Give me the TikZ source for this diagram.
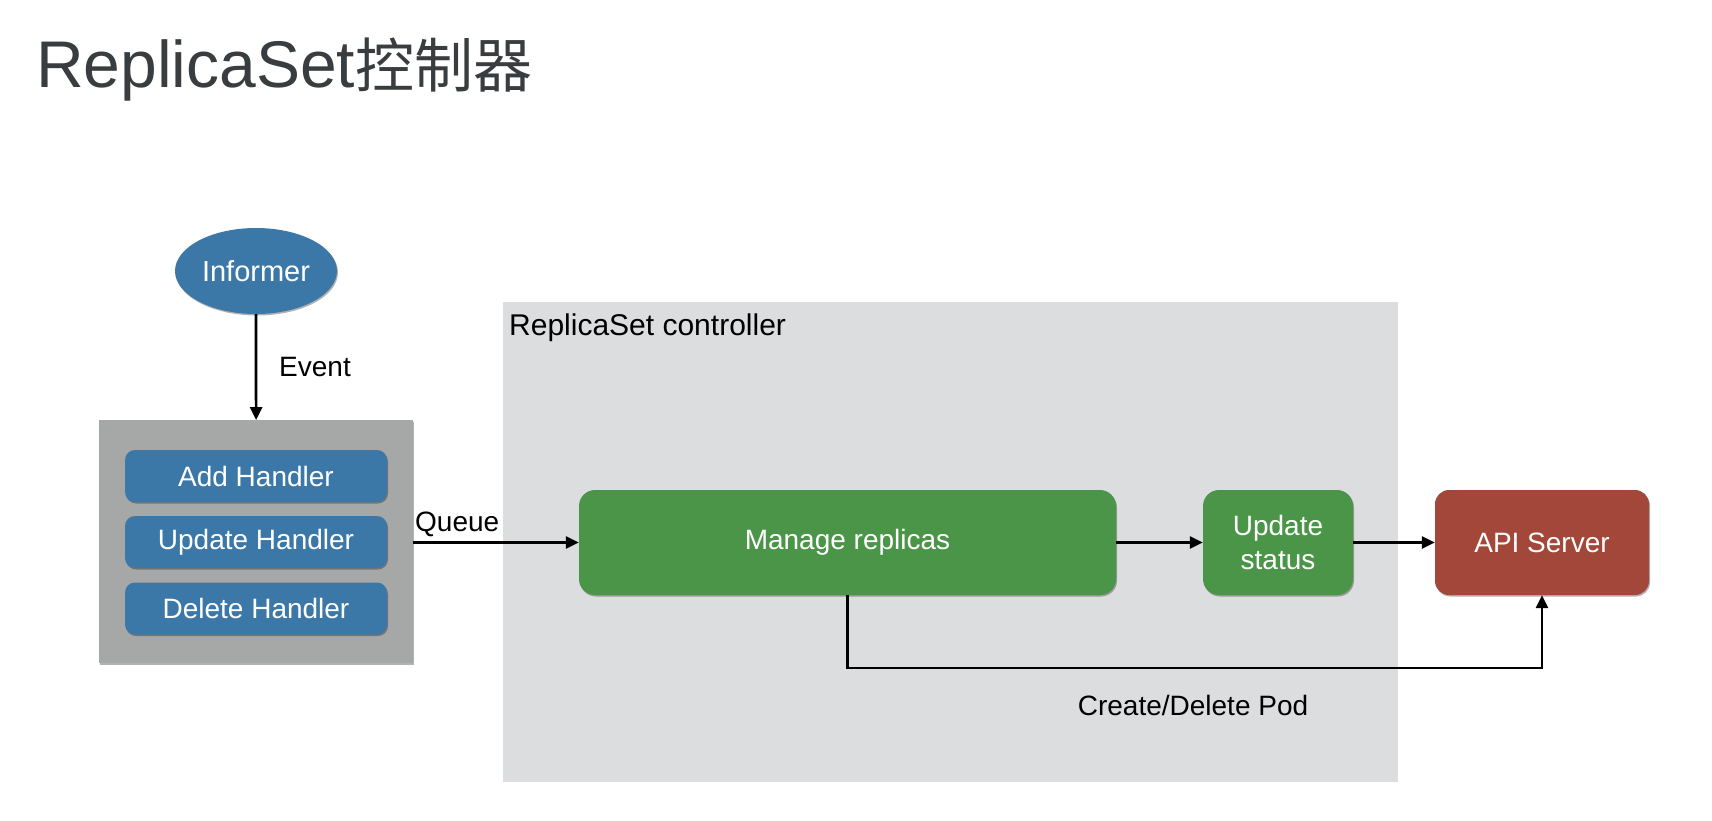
\documentclass[tikz,border=0pt]{standalone}
\usepackage{fontspec}
\setmainfont{Liberation Sans}
\newfontfamily\cjk{Noto Sans CJK SC}
\usetikzlibrary{shapes.geometric,arrows.meta,shadows}
\definecolor{titlegray}{HTML}{3A3D40}
\definecolor{bluefill}{HTML}{3C78A7}
\definecolor{greenfill}{HTML}{4A9548}
\definecolor{redfill}{HTML}{A3473A}
\definecolor{handlergray}{HTML}{A6A7A7}
\definecolor{ctrlgray}{HTML}{DCDDDF}
\begin{document}
\begin{tikzpicture}[x=1pt,y=-1pt,
  txt/.style={font=\fontsize{28}{34}\selectfont},
  lbl/.style={font=\fontsize{28}{33}\selectfont, text=black, inner sep=0pt},
  arr/.style={line width=2.7pt, -{Triangle[length=13pt,width=12pt]}},
  shad/.style={drop shadow={shadow xshift=1pt, shadow yshift=-1.5pt, opacity=0.3, fill=black}},
  bluebox/.style={shad, fill=bluefill, rounded corners=10pt, minimum width=262pt, minimum height=52pt, inner sep=0pt, text=white, txt},
  greenbox/.style={shad, fill=greenfill, rounded corners=16pt, minimum height=105pt, inner sep=0pt, text=white, txt, align=center},
  redbox/.style={shad, fill=redfill, rounded corners=14pt, minimum height=105pt, inner sep=0pt, text=white, txt}
]
\useasboundingbox (0,0) rectangle (1712,820);
\fill[white] (0,0) rectangle (1712,820);

% title
\node[anchor=base west, inner sep=0pt, text=titlegray, font=\fontsize{66}{76}\selectfont] (title) at (36,87) {ReplicaSet{\cjk\fontsize{59}{70}\selectfont 控制器}};

% controller container
\node[fill=ctrlgray, minimum width=895pt, minimum height=480pt, inner sep=0pt, anchor=north west] (ctrl) at (503,302) {};
\node[anchor=base west, inner sep=0pt, text=black, font=\fontsize{30}{36}\selectfont] (ctrltitle) at (509,335) {ReplicaSet controller};

% informer
\node[ellipse, shad, fill=bluefill, minimum width=162pt, minimum height=86pt, inner sep=0pt, text=white, font=\fontsize{29}{34}\selectfont] (informer) at (256,271) {Informer};

% handlers
\node[shad, fill=handlergray, minimum width=314pt, minimum height=243pt, inner sep=0pt, anchor=north west] (handlers) at (99,420) {};
\node[bluebox] (add) at (256,476) {Add Handler};
\node[bluebox] (upd) at (256,542) {Update Handler};
\node[bluebox] (del) at (256,608.5) {Delete Handler};

% process boxes
\node[greenbox, minimum width=537pt] (manage) at (847.5,542.5) {\raisebox{-3pt}{Manage replicas}};
\node[greenbox, minimum width=150pt] (status) at (1278,542.5) {Update\\status};
\node[redbox, minimum width=214pt] (api) at (1542,542.5) {API Server};

% connectors
\draw[arr] (informer) -- (handlers);
\node[lbl, anchor=west] (eventlbl) at (279,367) {Event};

\draw[arr] (handlers.east |- manage.west) -- (manage.west);
\node[lbl, anchor=base west] (queuelbl) at (415,531) {Queue};

\draw[arr] (manage) -- (status);
\draw[arr] (status) -- (api);

\coordinate (podturn) at (847.5,668);
\draw[arr] (manage.south) -- (podturn) -| (api.south);
\node[lbl] (podlbl) at (1193,705) {Create/Delete Pod};
\end{tikzpicture}
\end{document}
